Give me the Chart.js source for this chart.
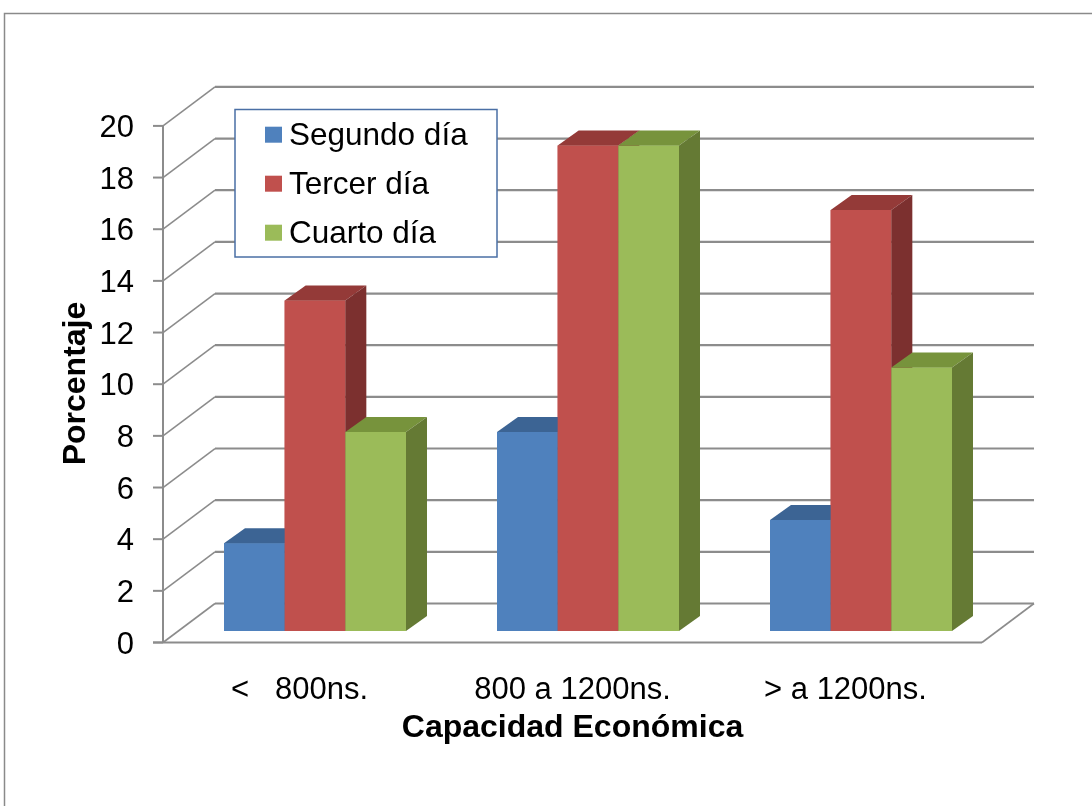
<!DOCTYPE html>
<html>
<head>
<meta charset="utf-8">
<script src="https://cdn.jsdelivr.net/npm/chart.js@4.4.1/dist/chart.umd.min.js"></script>
<style>
  html, body { margin: 0; padding: 0; background: #ffffff; }
  canvas { display: block; }
</style>
</head>
<body>
<canvas id="chart" width="1092" height="806"></canvas>
<script>
// ---- data ----
const categories = ['<   800ns.', '800 a 1200ns.', '> a 1200ns.'];
const seriesNames = ['Segundo día', 'Tercer día', 'Cuarto día'];
const segundoDia = [3.4, 7.7, 4.3];
const tercerDia = [12.8, 18.8, 16.3];
const cuartoDia = [7.7, 18.8, 10.2];
const yTicks = [0, 2, 4, 6, 8, 10, 12, 14, 16, 18, 20];
const xTitle = 'Capacidad Económica';
const yTitle = 'Porcentaje';

// ---- styling ----
const FONT = '"Liberation Sans", Arial, sans-serif';
const FACE = ['#4F81BD', '#C0504D', '#9BBB59'];
const TOP  = ['#3C6494', '#943A38', '#77933C'];
const SIDE = ['#385D8A', '#7C302F', '#657A34'];
const GRID = '#8C8C8C';

// oblique projection offsets, relative to the plane the bars stand on
const FRONT = { dx: -15.5, dy: 11.5 };   // front edge of the floor
const BACK  = { dx: 36.5,  dy: -27.5 };  // back wall
const DEPTH = { dx: 21,    dy: -15 };    // depth of each column

function line(ctx, x1, y1, x2, y2) {
  ctx.beginPath();
  ctx.moveTo(x1, y1);
  ctx.lineTo(x2, y2);
  ctx.stroke();
}

function poly(ctx, pts, fill) {
  ctx.beginPath();
  ctx.moveTo(pts[0][0], pts[0][1]);
  for (let i = 1; i < pts.length; i++) ctx.lineTo(pts[i][0], pts[i][1]);
  ctx.closePath();
  ctx.fillStyle = fill;
  ctx.fill();
}

const depthPlugin = {
  id: 'depth3d',
  beforeDatasetsDraw(chart) {
    const ctx = chart.ctx;
    const area = chart.chartArea;
    const y = chart.scales.y;
    const x = chart.scales.x;
    ctx.save();

    // outer frame
    ctx.strokeStyle = '#8A8A8A';
    ctx.lineWidth = 1.5;
    ctx.strokeRect(4.5, 13.5, 1300, 1000);

    const fl = area.left + FRONT.dx, fr = area.right + FRONT.dx;
    const bl = area.left + BACK.dx,  br = area.right + BACK.dx;

    // back wall gridlines and left wall diagonals
    ctx.strokeStyle = GRID;
    yTicks.forEach(v => {
      const py = y.getPixelForValue(v);
      ctx.lineWidth = 2.2;
      line(ctx, bl, py + BACK.dy, br, py + BACK.dy);
      ctx.lineWidth = 1.6;
      line(ctx, fl, py + FRONT.dy, bl, py + BACK.dy);
    });

    // floor: front edge and right edge
    const y0 = y.getPixelForValue(0);
    ctx.lineWidth = 2;
    line(ctx, fl - 10, y0 + FRONT.dy, fr, y0 + FRONT.dy);
    ctx.lineWidth = 1.6;
    line(ctx, fr, y0 + FRONT.dy, br, y0 + BACK.dy);

    // vertical axis with tick marks
    const yTop = y.getPixelForValue(yTicks[yTicks.length - 1]);
    ctx.lineWidth = 2;
    line(ctx, fl, yTop + FRONT.dy, fl, y0 + FRONT.dy);
    yTicks.forEach(v => {
      const py = y.getPixelForValue(v) + FRONT.dy;
      line(ctx, fl - 10, py, fl, py);
    });

    // tick labels
    ctx.fillStyle = '#000000';
    ctx.font = '31px ' + FONT;
    ctx.textAlign = 'right';
    ctx.textBaseline = 'alphabetic';
    yTicks.forEach(v => {
      const py = y.getPixelForValue(v) + FRONT.dy;
      ctx.fillText(String(v), fl - 29, py + 11);
    });

    // category labels
    ctx.textAlign = 'center';
    categories.forEach((c, i) => {
      const px = x.getPixelForValue(i) + FRONT.dx;
      ctx.fillText(c, px, 699);
    });

    // axis titles
    ctx.font = 'bold 32px ' + FONT;
    ctx.fillText(xTitle, (fl + fr) / 2, 737);
    ctx.save();
    ctx.translate(85, 383.5);
    ctx.rotate(-Math.PI / 2);
    ctx.fillText(yTitle, 0, 0);
    ctx.restore();

    ctx.restore();
  },
  afterDatasetsDraw(chart) {
    // columns painted left to right within each group: front, top, then side,
    // so a right-hand neighbour always covers the hidden part of a side face
    const ctx = chart.ctx;
    ctx.save();
    chart.data.datasets.forEach((ds, i) => {
      const meta = chart.getDatasetMeta(i);
      meta.data.forEach(el => {
        el.draw(ctx);
        const p = el.getProps(['x', 'y', 'base', 'width'], true);
        const l = p.x - p.width / 2, r = p.x + p.width / 2;
        poly(ctx, [[l, p.y], [r, p.y], [r + DEPTH.dx, p.y + DEPTH.dy], [l + DEPTH.dx, p.y + DEPTH.dy]], TOP[i]);
        poly(ctx, [[r, p.y], [r + DEPTH.dx, p.y + DEPTH.dy], [r + DEPTH.dx, p.base + DEPTH.dy], [r, p.base]], SIDE[i]);
      });
    });
    ctx.restore();
  },
  afterDraw(chart) {
    // legend box
    const ctx = chart.ctx;
    ctx.save();
    const bx = 235, by = 109.5, bw = 262, bh = 147.5;
    ctx.fillStyle = '#ffffff';
    ctx.fillRect(bx, by, bw, bh);
    ctx.strokeStyle = '#4A6FA5';
    ctx.lineWidth = 1.5;
    ctx.strokeRect(bx, by, bw, bh);
    ctx.font = '31.5px ' + FONT;
    ctx.textAlign = 'left';
    ctx.textBaseline = 'alphabetic';
    chart.data.datasets.forEach((ds, k) => {
      const cy = 134.7 + k * 49;
      ctx.fillStyle = ds.backgroundColor;
      ctx.fillRect(265, cy - 8, 17, 16);
      ctx.fillStyle = '#000000';
      ctx.fillText(ds.label, 289, cy + 10.5);
    });
    ctx.restore();
  }
};

new Chart(document.getElementById('chart'), {
  type: 'bar',
  data: {
    labels: categories,
    datasets: [
      { label: seriesNames[0], data: segundoDia, backgroundColor: FACE[0] },
      { label: seriesNames[1], data: tercerDia, backgroundColor: FACE[1] },
      { label: seriesNames[2], data: cuartoDia, backgroundColor: FACE[2] }
    ]
  },
  options: {
    responsive: false,
    animation: false,
    devicePixelRatio: 1,
    layout: { padding: { left: 178.5, right: 94.5, top: 114.4, bottom: 175 } },
    datasets: { bar: { categoryPercentage: 2 / 3, barPercentage: 1, borderWidth: 0 } },
    plugins: { legend: { display: false }, title: { display: false }, tooltip: { enabled: false } },
    scales: {
      x: { display: false },
      y: { display: false, min: 0, max: 20 }
    }
  },
  plugins: [depthPlugin]
});
</script>
</body>
</html>
